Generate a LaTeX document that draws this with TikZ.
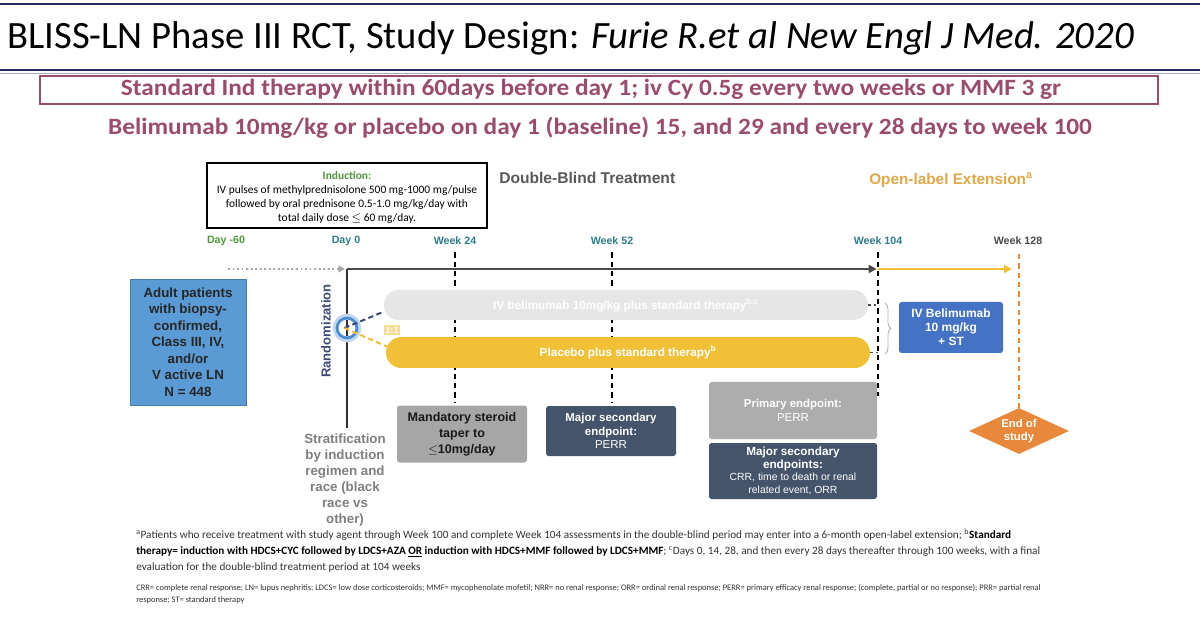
\documentclass[tikz,border=0pt]{standalone}
\usepackage{fontspec}
\setmainfont{Carlito}
\newfontfamily\arialf{Liberation Sans}
\newfontfamily\mauvef[FakeStretch=1.085]{Carlito}
\usetikzlibrary{shapes.geometric,decorations.pathreplacing,arrows.meta,calc}
\definecolor{navyline}{HTML}{1F2D5A}
\definecolor{mauve}{HTML}{9A4B6E}
\definecolor{indgreen}{HTML}{4E9A3A}
\definecolor{tlteal}{HTML}{2E7D8C}
\definecolor{goldpill}{HTML}{F2C037}
\definecolor{goldtext}{HTML}{E0A848}
\definecolor{lightpill}{HTML}{E6E6E6}
\definecolor{adultblue}{HTML}{5B9BD5}
\definecolor{ivblue}{HTML}{4472C4}
\definecolor{endorange}{HTML}{E8883A}
\definecolor{boxgray}{HTML}{A6A6A6}
\definecolor{boxgrayl}{HTML}{ADADAD}
\definecolor{slate}{HTML}{44546A}
\definecolor{stratgray}{HTML}{7F7F7F}
\definecolor{randnavy}{HTML}{3B4A7A}
\definecolor{dbtgray}{HTML}{595959}
\definecolor{axisgray}{HTML}{4A4A4A}
\definecolor{ringblue}{HTML}{4A8CD0}
\definecolor{footgray}{HTML}{333333}
\tikzset{
  tl/.style={font=\arialf\bfseries\fontsize{8}{10}\selectfont},
  vdash/.style={draw=black, line width=0.9pt, dash pattern=on 4pt off 3pt},
}
\begin{document}
\begin{tikzpicture}[x=0.75pt,y=-0.75pt]
\useasboundingbox (0,0) rectangle (1200,620);
\fill[white] (0,0) rectangle (1200,620);
% title bars
\draw[navyline, line width=2.2pt] (0,4) -- (1200,4);
\draw[navyline, line width=2.2pt] (0,70) -- (1200,70);
\draw[navyline!40, line width=0.8pt] (0,73.5) -- (1200,73.5);
\node[anchor=west, inner sep=0pt, font=\fontsize{29}{32}\selectfont] (title) at (7,38)
  {BLISS-LN Phase III RCT, Study Design: \textit{Furie R.et al New Engl J Med. 2020}};
% mauve lines
\node[draw=mauve, line width=1.6pt, minimum width=838.5pt, minimum height=21pt, inner sep=0pt] (stdbox) at (599,90) {};
\node[font=\mauvef\bfseries\fontsize{17.5}{21}\selectfont, text=mauve, inner sep=0pt] (stdtxt) at (591,89)
  {Standard Ind therapy within 60days before day 1; iv Cy 0.5g every two weeks or MMF 3 gr};
\node[font=\mauvef\bfseries\fontsize{17.5}{21}\selectfont, text=mauve, inner sep=0pt] (beltxt) at (600,128)
  {Belimumab 10mg/kg or placebo on day 1 (baseline) 15, and 29 and every 28 days to week 100};
% induction box
\node[draw=black, line width=1.5pt, minimum width=210pt, minimum height=48.75pt, inner sep=0pt] (indbox) at (347,195.5) {};
\node[font=\fontsize{8.6}{10.5}\selectfont, align=center, inner sep=0pt] (indtxt) at (347,197)
  {\textcolor{indgreen}{\textbf{Induction:}}\\
   IV pulses of methylprednisolone 500 mg-1000 mg/pulse\\
   followed by oral prednisone 0.5-1.0 mg/kg/day with\\
   total daily dose $\leq$ 60 mg/day.};
% headings
\node[font=\arialf\bfseries\fontsize{11.7}{13}\selectfont, text=dbtgray, anchor=west, inner sep=0pt] (dbt) at (499,178) {Double-Blind Treatment};
\node[font=\arialf\bfseries\fontsize{11.5}{13}\selectfont, text=goldtext, anchor=west, inner sep=0pt] (ole) at (869,180) {Open-label Extension\textsuperscript{a}};
% timeline labels
\node[tl, text=indgreen] (dm60) at (226,241) {Day -60};
\node[tl, text=tlteal] (d0) at (346,241) {Day 0};
\node[tl, text=tlteal] (w24) at (455,241) {Week 24};
\node[tl, text=tlteal] (w52) at (612,241) {Week 52};
\node[tl, text=tlteal] (w104) at (878,241) {Week 104};
\node[tl, text=axisgray] (w128) at (1018,241) {Week 128};
% timeline
\coordinate (tS) at (228,269);
\coordinate (tD) at (345,269);
\coordinate (t0) at (347,269);
\coordinate (t104) at (878,269);
\coordinate (tE) at (1012,269);
\coordinate (vEnd) at (347,428);
\draw[gray!70, line width=1.4pt, dotted, -{Triangle[length=5pt,width=5pt]}] (tS) -- (tD);
\draw[black!80, line width=1.2pt] (t0) -- (vEnd);
\draw[axisgray, line width=2pt, -{Triangle[length=6pt,width=6pt]}] (t0) -- ([xshift=-1pt]t104);
\draw[goldpill, line width=2.2pt, -{Triangle[length=6pt,width=6pt]}] (t104) -- (tE);
% dashed verticals
\coordinate (v24) at (455,402);
\coordinate (v52) at (612,402);
\coordinate (v104) at (878,396);
\draw[vdash] ([yshift=-2pt]w24.south) -- (v24);
\draw[vdash] ([yshift=-2pt]w52.south) -- (v52);
\draw[vdash] ([yshift=-2pt]w104.south) -- (v104);
% adult box
\node[fill=adultblue, draw=adultblue!80!black, line width=0.3pt, minimum width=87pt, minimum height=94.5pt, inner sep=0pt,
      font=\arialf\bfseries\fontsize{10}{12.4}\selectfont, align=center, text=black!85] (adult) at (188,342)
  {Adult patients\\with biopsy-\\confirmed,\\Class III, IV,\\and/or\\V active LN\\N = 448};
% randomization
\node[rotate=90, font=\arialf\bfseries\fontsize{9.8}{12}\selectfont, text=randnavy, inner sep=0pt] (randtxt) at (326,331) {Randomization};
% pills
\node[fill=lightpill, rounded corners=11pt, minimum width=363pt, minimum height=22.5pt, inner sep=0pt,
      font=\arialf\bfseries\fontsize{8.8}{10}\selectfont, text=white] (gpill) at (626,305)
  {IV belimumab 10mg/kg plus standard therapy\textsuperscript{b,c}};
\node[fill=goldpill, rounded corners=11.5pt, minimum width=363pt, minimum height=23.25pt, inner sep=0pt,
      font=\arialf\bfseries\fontsize{8.8}{10}\selectfont, text=white] (ypill) at (628,352.5)
  {Placebo plus standard therapy\textsuperscript{b}};
\node[fill=goldpill!55, font=\arialf\bfseries\fontsize{7}{8}\selectfont, text=white, inner sep=1pt] (ratio) at (392,330) {1:1};
% randomization circle
\node[circle, draw=ringblue!35, line width=4.5pt, minimum size=17pt, inner sep=0pt] (randglow) at (347,328) {};
\node[circle, draw=ringblue, line width=2pt, minimum size=15pt, inner sep=0pt] (rand) at (347,328) {};
\draw[randnavy, line width=1.5pt, dash pattern=on 4pt off 2.5pt] ([xshift=-2pt]rand.center) -- ([yshift=-5pt]gpill.west);
\draw[goldpill, line width=1.5pt, dash pattern=on 4pt off 2.5pt] ([xshift=-2pt]rand.center) -- ([yshift=4pt,xshift=2pt]ypill.west);
\draw[black!70, line width=1pt, dash pattern=on 2pt off 2pt] (gpill.east) -- (v104 |- gpill.east);
\draw[black!70, line width=1pt, dash pattern=on 2pt off 2pt] (ypill.east) -- (v104 |- ypill.east);
% brace and OLE box
\coordinate (brA) at (885,303);
\coordinate (brB) at (885,354);
\draw[gray!60, line width=0.6pt, decorate, decoration={brace, amplitude=4.5pt}] (brA) -- (brB);
\node[fill=ivblue, rounded corners=2pt, minimum width=78pt, minimum height=38.25pt, inner sep=0pt,
      font=\arialf\bfseries\fontsize{9}{10.5}\selectfont, align=center, text=white] (ivbel) at (951,327.5)
  {IV Belimumab\\10 mg/kg\\+ ST};
% end of study
\node[diamond, fill=endorange, minimum width=75pt, minimum height=34.5pt, aspect=2.17, inner sep=0pt,
      font=\arialf\bfseries\fontsize{8.5}{10}\selectfont, align=center, text=white] (eos) at (1019,431) {End of\\study};
\coordinate (oTop) at (1019,254);
\draw[endorange, line width=0.9pt, dash pattern=on 4pt off 3pt] (oTop) -- (eos.north);
% endpoint boxes
\node[fill=boxgray, rounded corners=2pt, minimum width=97.5pt, minimum height=42.75pt, inner sep=0pt,
      font=\arialf\bfseries\fontsize{9.4}{12}\selectfont, align=center, text=black!90] (taper) at (462,434)
  {Mandatory steroid\\taper to\\$\leq$10mg/day};
\node[fill=slate, rounded corners=2pt, minimum width=97.5pt, minimum height=37.5pt, inner sep=0pt,
      font=\arialf\fontsize{8.6}{10.2}\selectfont, align=center, text=white] (mse) at (611,431)
  {\textbf{Major secondary}\\\textbf{endpoint:}\\PERR};
\node[fill=boxgrayl, rounded corners=2pt, minimum width=126pt, minimum height=42.75pt, inner sep=0pt,
      font=\arialf\fontsize{8.6}{10.2}\selectfont, align=center, text=white] (prim) at (793,410.5)
  {\textbf{Primary endpoint:}\\PERR};
\node[fill=slate, rounded corners=2pt, minimum width=126pt, minimum height=42pt, inner sep=0pt,
      font=\arialf\fontsize{7.8}{9.6}\selectfont, align=center, text=white] (mses) at (793,471)
  {\textbf{\fontsize{8.8}{9.6}\selectfont Major secondary}\\\textbf{\fontsize{8.8}{9.6}\selectfont endpoints:}\\CRR, time to death or renal\\related event, ORR};
% stratification
\node[font=\arialf\bfseries\fontsize{10}{12}\selectfont, align=center, text=stratgray, inner sep=0pt, anchor=north] (strat) at (345,434)
  {Stratification\\by induction\\regimen and\\race (black\\race vs\\other)};
% footnotes
\node[anchor=north west, align=left, inner sep=0pt, text=footgray, font=\fontsize{8.4}{12}\selectfont] (foot) at (136,529)
  {\textsuperscript{a}Patients who receive treatment with study agent through Week 100 and complete Week 104 assessments in the double-blind period may enter into a 6-month open-label extension; \textsuperscript{b}\textbf{\textcolor{black}{Standard}}\\
   \textbf{\textcolor{black}{therapy= induction with HDCS+CYC followed by LDCS+AZA \underline{OR} induction with HDCS+MMF followed by LDCS+MMF}}; \textsuperscript{c}Days 0, 14, 28, and then every 28 days thereafter through 100 weeks, with a final\\
   evaluation for the double-blind treatment period at 104 weeks};
\node[anchor=north west, align=left, inner sep=0pt, text=footgray, font=\fontsize{6.35}{9}\selectfont] (abbr) at (136,584)
  {CRR= complete renal response; LN= lupus nephritis; LDCS= low dose corticosteroids; MMF= mycophenolate mofetil; NRR= no renal response; ORR= ordinal renal response; PERR= primary efficacy renal response; (complete, partial or no response); PRR= partial renal\\
   response; ST= standard therapy};
\end{tikzpicture}
\end{document}
